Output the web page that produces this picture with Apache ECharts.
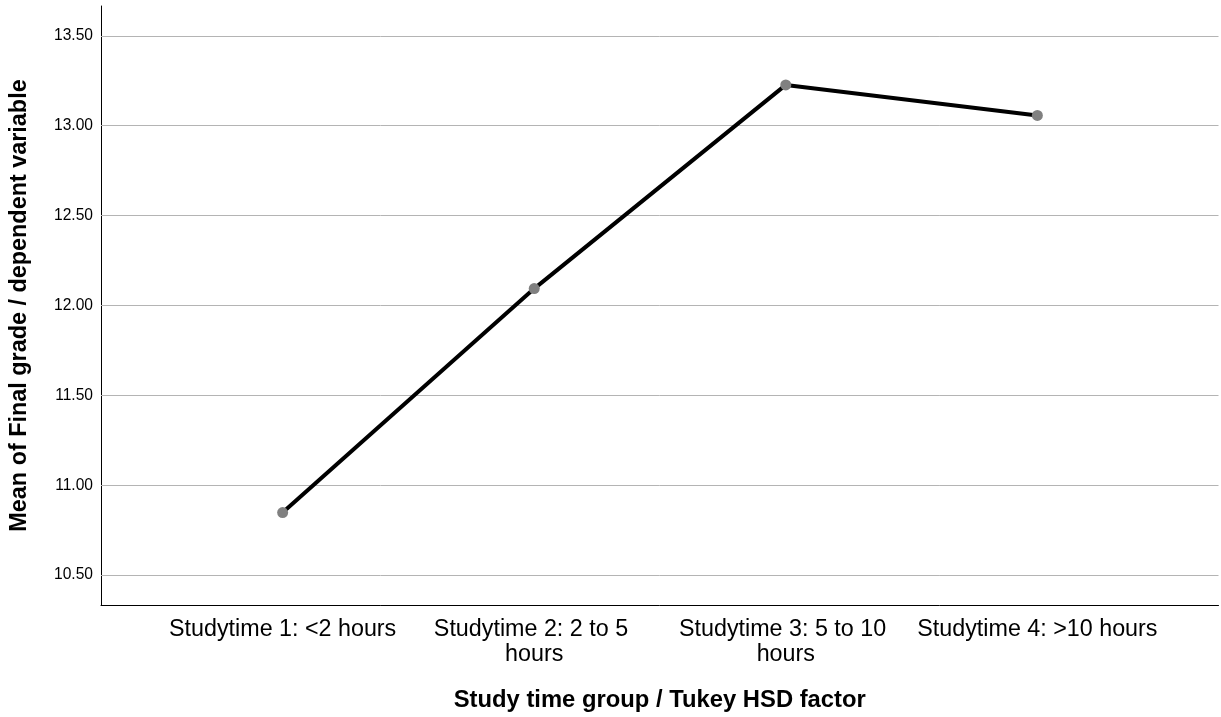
<!DOCTYPE html>
<html><head><meta charset="utf-8">
<script src="https://cdn.jsdelivr.net/npm/echarts@6/dist/echarts.min.js"></script>
<style>html,body{margin:0;padding:0;background:#fff}#c{width:1221px;height:717px}</style>
</head><body><div id="c"></div>
<script>
const categories = ["Studytime 1: <2 hours", "Studytime 2: 2 to 5 hours", "Studytime 3: 5 to 10 hours", "Studytime 4: >10 hours"];
const means = [10.848, 12.094, 13.227, 13.057];
const yTicks = [10.5, 11.0, 11.5, 12.0, 12.5, 13.0, 13.5];
const xTitle = "Study time group / Tukey HSD factor";
const yTitle = "Mean of Final grade / dependent variable";

const chart = echarts.init(document.getElementById('c'), null, {renderer: 'canvas'});
const font = '"Liberation Sans", Arial, sans-serif';
chart.setOption({
  animation: false,
  grid: {left: 99, right: 2.5, top: 6, bottom: 108, containLabel: false},
  xAxis: {
    type: 'value', min: -0.722, max: 3.72,
    name: xTitle, nameLocation: 'middle', nameGap: 83,
    nameTextStyle: {fontFamily: font, fontSize: 23.8, fontWeight: 'bold', color: '#000'},
    axisLine: {show: true, onZero: false, lineStyle: {color: '#000', width: 1}},
    axisTick: {show: false},
    splitLine: {show: false},
    axisLabel: {
      customValues: [0, 1, 2, 3],
      formatter: v => categories[Math.round(v)],
      fontFamily: font, fontSize: 23.3, color: '#000', margin: 12,
      width: 246, overflow: 'break', lineHeight: 25, align: 'center'
    }
  },
  yAxis: {
    type: 'value', min: 10.334, max: 13.666,
    name: yTitle, nameLocation: 'middle', nameGap: 70,
    nameTextStyle: {fontFamily: font, fontSize: 23.4, fontWeight: 'bold', color: '#000'},
    axisLine: {show: true, onZero: false, lineStyle: {color: '#000', width: 1}},
    axisTick: {show: false},
    splitLine: {show: false},
    axisLabel: {
      customValues: yTicks,
      formatter: v => v.toFixed(2),
      fontFamily: font, fontSize: 15.6, color: '#000', margin: 8
    }
  },
  series: [{
    type: 'line',
    data: means.map((m, i) => [i, m]),
    lineStyle: {color: '#000', width: 4},
    itemStyle: {color: '#808080'},
    symbol: 'circle', symbolSize: 11, showSymbol: true,
    z: 5,
    markLine: {
      silent: true, symbol: 'none', label: {show: false},
      lineStyle: {color: '#b4b4b4', width: 1, type: 'solid'},
      data: yTicks.map(t => ({yAxis: t})),
      z: 1
    }
  }]
});
</script></body></html>
